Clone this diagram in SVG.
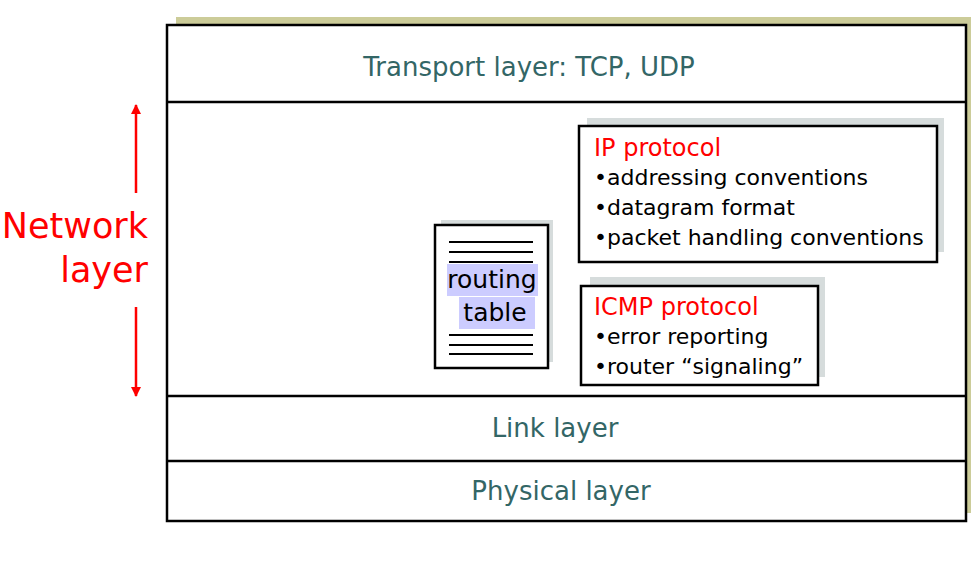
<svg xmlns="http://www.w3.org/2000/svg" width="976" height="573" viewBox="0 0 976 573">
<style>
  .layer { font-family: "DejaVu Sans", "Liberation Sans", sans-serif; font-size: 26px; fill: #336666; text-anchor: middle; }
  .title { font-family: "DejaVu Sans", "Liberation Sans", sans-serif; font-size: 24px; fill: #FF0000; }
  .item { font-family: "DejaVu Sans", "Liberation Sans", sans-serif; font-size: 22px; fill: #000000; }
  .rt { font-family: "DejaVu Sans", "Liberation Sans", sans-serif; font-size: 25px; fill: #000000; text-anchor: middle; }
  .net { font-family: "DejaVu Sans", "Liberation Sans", sans-serif; font-size: 35px; fill: #FF0000; text-anchor: end; }
  .box { fill: #FFFFFF; stroke: #000000; stroke-width: 2.5; }
  .shadow { fill: #D6DCDC; }
  .sep { stroke: #000000; stroke-width: 2.5; }
  .rule { stroke: #000000; stroke-width: 2.2; }
  .arrow { stroke: #FF0000; stroke-width: 2.5; fill: none; marker-end: url(#ah); }
</style>
<defs>
  <marker id="ah" markerWidth="10" markerHeight="10" refX="9" refY="5" orient="auto" markerUnits="userSpaceOnUse" viewBox="0 0 10 10">
    <path d="M0,0 L10,5 L0,10 Z" fill="#FF0000"/>
  </marker>
</defs>
<rect width="976" height="573" fill="#FFFFFF"/>

<g id="stack">
  <rect x="176" y="17" width="795" height="496" fill="#CCCC99"/>
  <rect x="167" y="25" width="799" height="496" class="box"/>
  <line x1="167" y1="102" x2="966" y2="102" class="sep"/>
  <line x1="167" y1="396" x2="966" y2="396" class="sep"/>
  <line x1="167" y1="461" x2="966" y2="461" class="sep"/>
</g>

<g id="transport">
  <text x="529" y="76" class="layer">Transport layer: TCP, UDP</text>
</g>
<g id="link">
  <text x="555" y="437" class="layer">Link layer</text>
</g>
<g id="physical">
  <text x="561" y="500" class="layer">Physical layer</text>
</g>

<g id="network-label">
  <text x="148" y="238" class="net">Network</text>
  <text x="148" y="282" class="net">layer</text>
</g>

<g id="routing-table">
  <rect x="441" y="220" width="112" height="142" class="shadow"/>
  <rect x="435" y="225" width="113" height="143" class="box"/>
  <line x1="449" y1="242" x2="533" y2="242" class="rule"/>
  <line x1="449" y1="252" x2="533" y2="252" class="rule"/>
  <line x1="449" y1="262" x2="533" y2="262" class="rule"/>
  <rect x="447" y="264" width="91" height="32" fill="#CCCCFF"/>
  <rect x="459" y="297" width="76" height="32" fill="#CCCCFF"/>
  <text x="492" y="288" class="rt">routing</text>
  <text x="495" y="321" class="rt">table</text>
  <line x1="449" y1="335" x2="533" y2="335" class="rule"/>
  <line x1="449" y1="345" x2="533" y2="345" class="rule"/>
  <line x1="449" y1="354" x2="533" y2="354" class="rule"/>
</g>

<g id="ip-protocol">
  <rect x="587" y="118" width="357" height="134" class="shadow"/>
  <rect x="579" y="126" width="358" height="136" class="box"/>
  <text x="594" y="156" class="title">IP protocol</text>
  <text x="594" y="185" class="item">•addressing conventions</text>
  <text x="594" y="215" class="item">•datagram format</text>
  <text x="594" y="245" class="item">•packet handling conventions</text>
</g>

<g id="icmp-protocol">
  <rect x="590" y="277" width="235" height="100" class="shadow"/>
  <rect x="581" y="286" width="237" height="99" class="box"/>
  <text x="594" y="315" class="title">ICMP protocol</text>
  <text x="594" y="344" class="item">•error reporting</text>
  <text x="594" y="374" class="item">•router “signaling”</text>
</g>

<g id="connectors">
  <line x1="136" y1="193" x2="136" y2="105" class="arrow"/>
  <line x1="136" y1="307" x2="136" y2="396" class="arrow"/>
</g>
</svg>
